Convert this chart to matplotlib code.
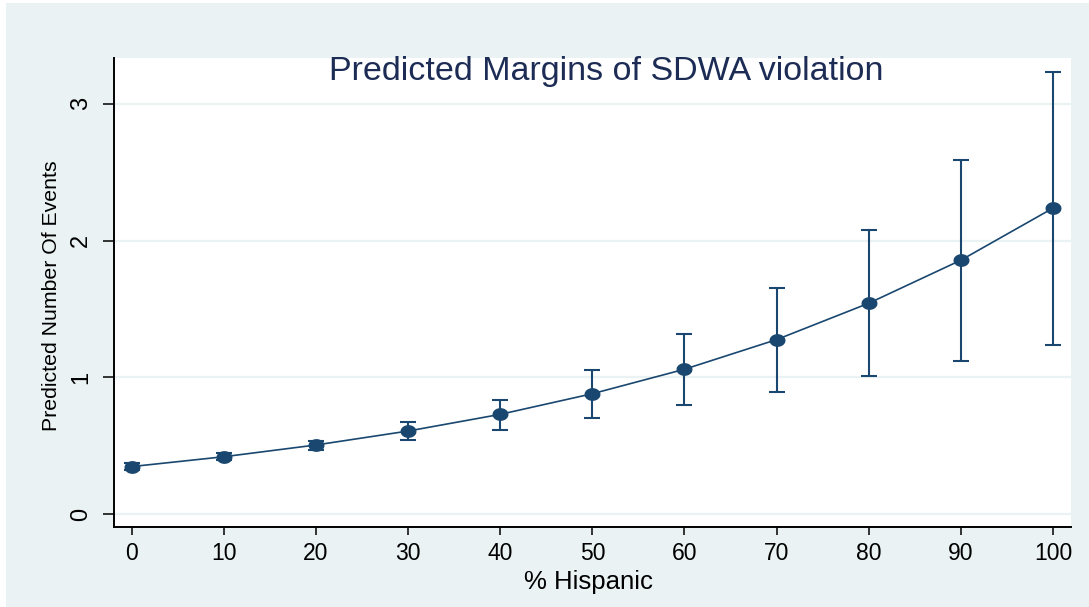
import matplotlib
matplotlib.use("Agg")
import matplotlib.pyplot as plt
from matplotlib import font_manager
from matplotlib.path import Path
from matplotlib.patches import Rectangle
import numpy as np

hispanic = [0, 10, 20, 30, 40, 50, 60, 70, 80, 90, 100]
predicted = [0.347, 0.419, 0.505, 0.607, 0.729, 0.880, 1.059, 1.276, 1.542, 1.857, 2.238]
ci_low = [0.325, 0.396, 0.471, 0.543, 0.617, 0.701, 0.796, 0.896, 1.006, 1.118, 1.239]
ci_high = [0.370, 0.443, 0.537, 0.670, 0.836, 1.052, 1.319, 1.654, 2.076, 2.593, 3.236]
yticks = [0, 1, 2, 3]

W, H = 1089, 607
navy = "#1A476F"
bg = "#EAF2F3"


def has_font(name):
    try:
        font_manager.findfont(name, fallback_to_default=False)
        return True
    except Exception:
        return False


def ellipse_marker(ratio=0.78, n=40):
    t = np.linspace(0, 2 * np.pi, n)
    verts = np.column_stack([np.cos(t), ratio * np.sin(t)])
    return Path(verts, closed=True)


plt.rcParams['font.family'] = ['Liberation Sans', 'DejaVu Sans']
narrow = 'Liberation Sans Narrow' if has_font('Liberation Sans Narrow') else 'Liberation Sans'

fig = plt.figure(figsize=(W / 100, H / 100), dpi=100)
fig.patch.set_facecolor("white")
fig.patches.append(Rectangle((6 / W, 0), 1, (H - 3) / H, transform=fig.transFigure,
                             facecolor=bg, edgecolor="none", zorder=-10))

ax = fig.add_axes([114 / W, (H - 527) / H, (1071 - 114) / W, (527 - 58) / H])
ax.set_facecolor("white")

ax.set_xlim(-1.92, 101.95)
ax.set_ylim(-0.095, 3.336)

ax.set_yticks(yticks)
ax.set_xticks(hispanic)
ax.grid(axis='y', color=bg, linewidth=1.6)
ax.set_axisbelow(True)

for s in ['top', 'right']:
    ax.spines[s].set_visible(False)
for s in ['left', 'bottom']:
    ax.spines[s].set_linewidth(1.4)
    ax.spines[s].set_color("black")

ax.tick_params(axis='x', length=5.6, width=1.1, labelsize=16.5, pad=5)
ax.tick_params(axis='y', length=7.9, width=1.1, labelsize=17, pad=8, labelrotation=90)
for lbl in ax.get_yticklabels():
    lbl.set_va('center')

yerr = [np.array(predicted) - np.array(ci_low), np.array(ci_high) - np.array(predicted)]
ax.errorbar(hispanic, predicted, yerr=yerr, fmt='none', ecolor=navy,
            elinewidth=1.5, capsize=5.8, capthick=1.5, zorder=3)
ax.plot(hispanic, predicted, color=navy, linewidth=1.2,
        marker=ellipse_marker(), markersize=10.5, markerfacecolor=navy,
        markeredgecolor=navy, zorder=4)

fig.text(606 / W, (H - 80) / H, "Predicted Margins of SDWA violation",
         ha='center', va='baseline', fontsize=24.5, color="#1C2C55")
fig.text(588 / W, (H - 589) / H, "% Hispanic", ha='center', va='baseline',
         fontsize=18.5, color="black")
fig.text(52 / W, (H - 296) / H, "Predicted Number Of Events", rotation=90,
         ha='center', va='center', fontsize=18.5 if narrow != 'Liberation Sans' else 15.3,
         family=[narrow, 'DejaVu Sans'], color="black")

fig.savefig("out.png", dpi=100, facecolor=fig.get_facecolor())
